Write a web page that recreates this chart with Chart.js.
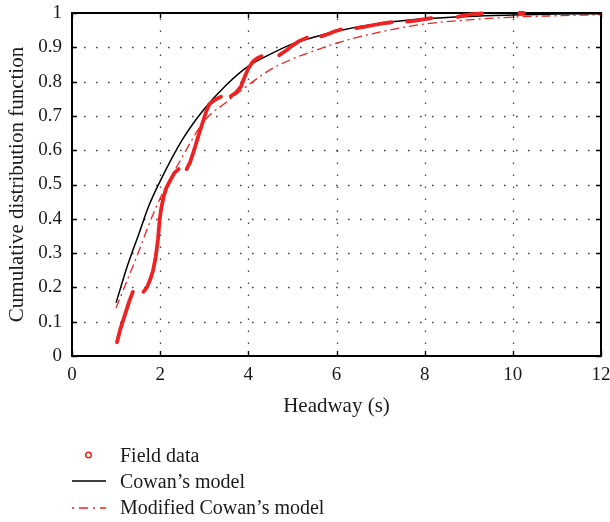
<!DOCTYPE html>
<html><head><meta charset="utf-8">
<script src="https://cdn.jsdelivr.net/npm/chart.js@4/dist/chart.umd.min.js"></script>
<style>
html,body{margin:0;padding:0;background:#fff;}
#wrap{position:relative;width:610px;height:522px;overflow:hidden;}
#c{position:absolute;left:0;top:0;}
#legsvg{position:absolute;left:0;top:0;pointer-events:none;}
.leg{position:absolute;left:120px;font-family:'Liberation Serif','DejaVu Serif',serif;font-size:20px;line-height:26px;color:#1a1a1a;white-space:nowrap;}
</style></head><body>
<div id="wrap">
<canvas id="c" width="610" height="522" style="width:610px;height:522px"></canvas>
<svg id="legsvg" width="610" height="522"></svg>
<div class="leg" id="l0" style="top:442px"></div>
<div class="leg" id="l1" style="top:468px"></div>
<div class="leg" id="l2" style="top:494px"></div>
</div>
<script>
// ---- data ----
const seriesNames = ['Field data', "Cowan\u2019s model", "Modified Cowan\u2019s model"];
const xTicks = [0, 2, 4, 6, 8, 10, 12];
const yTicks = [0, 0.1, 0.2, 0.3, 0.4, 0.5, 0.6, 0.7, 0.8, 0.9, 1];
const yTickLabels = ['0', '0.1', '0.2', '0.3', '0.4', '0.5', '0.6', '0.7', '0.8', '0.9', '1'];
const xTitle = 'Headway (s)';
const yTitle = 'Cumulative distribution function';

const cowanT = [1, 1.25, 1.5, 1.75, 2, 2.5, 3, 3.5, 4, 4.5, 5, 5.5, 6, 7, 8, 9, 10, 11, 12];
const cowanF = [0.155, 0.26, 0.35, 0.44, 0.51, 0.63, 0.72, 0.79, 0.845, 0.88, 0.91, 0.93, 0.947, 0.97, 0.983, 0.99, 0.994, 0.997, 0.998];

const modT = [1, 1.25, 1.5, 1.75, 2, 2.5, 3, 3.5, 4, 4.5, 5, 5.5, 6, 7, 8, 9, 10, 11, 12];
const modF = [0.14, 0.22, 0.30, 0.385, 0.46, 0.58, 0.685, 0.74, 0.79, 0.835, 0.866, 0.89, 0.912, 0.945, 0.968, 0.98, 0.988, 0.992, 0.995];

// null entries separate the runs of the empirical CDF
const fieldT = [1.02, 1.1, 1.2, 1.3, 1.38, null,
  1.62, 1.7, 1.78, 1.84, 1.9, 1.95, 1.99, 2.03, 2.08, 2.14, 2.22, 2.32, 2.42, null,
  2.6, 2.68, 2.77, 2.85, 2.95, 3.05, 3.12, 3.25, 3.38, null,
  3.6, 3.72, 3.83, 3.92, 4.0, 4.1, 4.2, 4.3, null,
  4.7, 4.85, 5.0, 5.15, 5.33, null,
  5.65, 5.8, 5.95, 6.1, null,
  6.45, 6.65, 6.85, 7.05, 7.25, null,
  7.6, 7.8, 8.0, 8.15, null,
  8.75, 8.9, 9.05, 9.3, null,
  10.15, 10.25];
const fieldF = [0.04, 0.08, 0.12, 0.16, 0.187, null,
  0.187, 0.2, 0.225, 0.25, 0.29, 0.34, 0.40, 0.435, 0.465, 0.49, 0.51, 0.533, 0.545, null,
  0.545, 0.565, 0.60, 0.635, 0.675, 0.715, 0.735, 0.748, 0.756, null,
  0.757, 0.768, 0.785, 0.815, 0.838, 0.858, 0.868, 0.874, null,
  0.877, 0.89, 0.905, 0.918, 0.928, null,
  0.932, 0.938, 0.946, 0.952, null,
  0.956, 0.96, 0.965, 0.97, 0.973, null,
  0.975, 0.978, 0.982, 0.985, null,
  0.989, 0.993, 0.996, 0.999, null,
  1.0, 1.0];

// ---- styling ----
const FONT = "'Liberation Serif', 'DejaVu Serif', serif";
const RED = '#ee2222';
const DASHDOT = [9, 4, 2, 4];

const toPts = (xs, ys) => xs.map((v, i) => ({ x: v, y: ys[i] }));
const noPad = s => { s.paddingLeft = 0; s.paddingRight = 0; s.paddingTop = 0; s.paddingBottom = 0; };

const framePlugin = {
  id: 'frame',
  beforeDatasetsDraw(chart) {
    const { ctx, chartArea: a, scales: { x, y } } = chart;
    ctx.save();
    // dotted grid
    ctx.strokeStyle = '#444';
    ctx.lineWidth = 1.3;
    ctx.setLineDash([1.6, 10.4]);
    x.ticks.forEach(t => {
      const px = Math.round(x.getPixelForValue(t.value)) + 0.5;
      if (px <= a.left + 2 || px >= a.right - 2) return;
      ctx.beginPath(); ctx.moveTo(px, a.bottom); ctx.lineTo(px, a.top); ctx.stroke();
    });
    y.ticks.forEach(t => {
      const py = Math.round(y.getPixelForValue(t.value)) + 0.5;
      if (py <= a.top + 2 || py >= a.bottom - 2) return;
      ctx.beginPath(); ctx.moveTo(a.left, py); ctx.lineTo(a.right, py); ctx.stroke();
    });
    ctx.setLineDash([]);
    // inward tick marks
    ctx.strokeStyle = '#000';
    ctx.lineWidth = 1.4;
    const L = 5;
    x.ticks.forEach(t => {
      const px = Math.round(x.getPixelForValue(t.value)) + 0.5;
      ctx.beginPath();
      ctx.moveTo(px, a.bottom); ctx.lineTo(px, a.bottom - L);
      ctx.moveTo(px, a.top); ctx.lineTo(px, a.top + L);
      ctx.stroke();
    });
    y.ticks.forEach(t => {
      const py = Math.round(y.getPixelForValue(t.value)) + 0.5;
      ctx.beginPath();
      ctx.moveTo(a.left, py); ctx.lineTo(a.left + L, py);
      ctx.moveTo(a.right, py); ctx.lineTo(a.right - L, py);
      ctx.stroke();
    });
    // frame
    ctx.lineWidth = 2;
    ctx.strokeRect(a.left, a.top, a.right - a.left, a.bottom - a.top);
    ctx.restore();
  }
};

new Chart(document.getElementById('c'), {
  type: 'scatter',
  data: {
    datasets: [
      {
        label: seriesNames[0],
        data: toPts(fieldT, fieldF),
        showLine: true,
        spanGaps: false,
        borderColor: RED,
        backgroundColor: RED,
        borderWidth: 3.8,
        borderCapStyle: 'round',
        borderJoinStyle: 'round',
        pointRadius: 0,
        clip: false,
        order: 1
      },
      {
        label: seriesNames[1],
        data: toPts(cowanT, cowanF),
        showLine: true,
        borderColor: '#000',
        borderWidth: 1.5,
        pointRadius: 0,
        cubicInterpolationMode: 'monotone',
        order: 2
      },
      {
        label: seriesNames[2],
        data: toPts(modT, modF),
        showLine: true,
        borderColor: RED,
        borderWidth: 1.3,
        borderDash: DASHDOT,
        pointRadius: 0,
        cubicInterpolationMode: 'monotone',
        order: 3
      }
    ]
  },
  options: {
    responsive: false,
    animation: false,
    devicePixelRatio: 1,
    layout: { padding: { left: 0, right: 9, top: 13, bottom: 102 } },
    plugins: { legend: { display: false }, tooltip: { enabled: false } },
    scales: {
      x: {
        type: 'linear', min: 0, max: 12,
        afterBuildTicks: s => { s.ticks = xTicks.map(v => ({ value: v })); },
        afterFit: s => { s.height = 64; noPad(s); },
        grid: { display: false, drawTicks: false },
        border: { display: false },
        ticks: { padding: 8, color: '#1a1a1a', font: { family: FONT, size: 19 }, maxRotation: 0,
                 callback: v => String(v) },
        title: { display: true, text: xTitle, color: '#1a1a1a', font: { family: FONT, size: 21 }, padding: { top: 0, bottom: 1 } }
      },
      y: {
        type: 'linear', min: 0, max: 1,
        afterBuildTicks: s => { s.ticks = yTicks.map(v => ({ value: v })); },
        afterFit: s => { s.width = 72; noPad(s); },
        grid: { display: false, drawTicks: false },
        border: { display: false },
        ticks: { padding: 10, color: '#1a1a1a', font: { family: FONT, size: 19 },
                 callback: (v) => { const i = yTicks.findIndex(t => Math.abs(t - v) < 1e-9); return i >= 0 ? yTickLabels[i] : ''; } },
        title: { display: true, text: yTitle, color: '#1a1a1a', font: { family: FONT, size: 21 }, padding: { top: 5, bottom: 0 } }
      }
    }
  },
  plugins: [framePlugin]
});

// ---- legend (HTML text + SVG symbols) ----
document.getElementById('l0').textContent = seriesNames[0];
document.getElementById('l1').textContent = seriesNames[1];
document.getElementById('l2').textContent = seriesNames[2];
const svg = document.getElementById('legsvg');
svg.innerHTML =
  '<circle cx="88.5" cy="455" r="2.8" fill="none" stroke="' + RED + '" stroke-width="1.5"/>' +
  '<line x1="72" y1="481" x2="106" y2="481" stroke="#000" stroke-width="1.5"/>' +
  '<line x1="72" y1="508" x2="106" y2="508" stroke="' + RED + '" stroke-width="1.3" stroke-dasharray="2,5,9,5"/>';
</script>
</body></html>
